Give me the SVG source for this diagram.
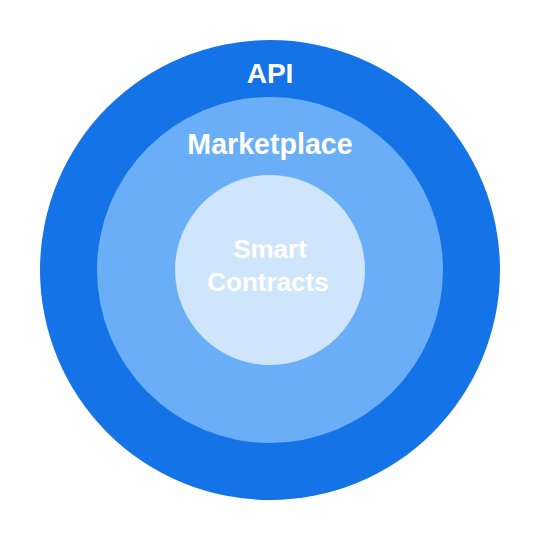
<svg xmlns="http://www.w3.org/2000/svg" width="540" height="540" viewBox="0 0 540 540">
<style>
text{font-family:"Liberation Sans",Arial,sans-serif;font-weight:bold;fill:#ffffff;text-anchor:middle}
</style>
<rect width="540" height="540" fill="#ffffff"/>
<g id="api">
<circle cx="270" cy="270" r="230" fill="#1473e6"/>
<text x="270" y="82.5" font-size="28">API</text>
</g>
<g id="marketplace">
<circle cx="270" cy="270" r="173" fill="#6baef8"/>
<text x="270" y="154" font-size="28.6">Marketplace</text>
</g>
<g id="smart-contracts">
<circle cx="270" cy="270" r="95" fill="#cfe5fb"/>
<text x="270" y="258" font-size="26">Smart</text>
<text x="268" y="291" font-size="26">Contracts</text>
</g>
<g id="connectors"/>
</svg>
